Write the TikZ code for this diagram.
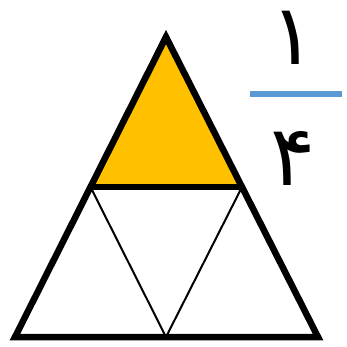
\documentclass[tikz,border=0pt]{standalone}
\usepackage{fontspec}
\newfontfamily\arabicfont[Script=Arabic]{DejaVu Sans}
\TeXXeTstate=1
\definecolor{tri}{HTML}{FFC000}
\definecolor{bar}{HTML}{5B9BD5}
\begin{document}
\begin{tikzpicture}[x=1pt,y=-1pt,
thickline/.style={line width=6.5pt,line join=miter},
thinline/.style={line width=2pt},
fracbar/.style={line width=6pt,draw=bar},
digit/.style={font=\arabicfont\fontsize{84}{92}\selectfont,inner sep=0pt}]
\useasboundingbox (0,0) rectangle (347,347);
\coordinate (top) at (166,37);
\coordinate (bl) at (15,337);
\coordinate (br) at (318,337);
\coordinate (ml) at (90.5,187);
\coordinate (mr) at (242,187);
\coordinate (mb) at (166,337);
% shaded quarter
\fill[tri] (top) -- (ml) -- (mr) -- cycle;
\draw[thinline] (ml) -- (mb) -- (mr);
\draw[thickline] (ml) -- (mr);
\draw[thickline] (top) -- (bl) -- (br) -- cycle;
% fraction
\coordinate (barl) at (250,94);
\coordinate (barr) at (342,94);
\draw[fracbar] (barl) -- (barr);
\node[digit] (num) at (293,38) {\beginR ١\endR};
\node[digit] (den) at (293,158) {\beginR ۴\endR};
\end{tikzpicture}
\end{document}
